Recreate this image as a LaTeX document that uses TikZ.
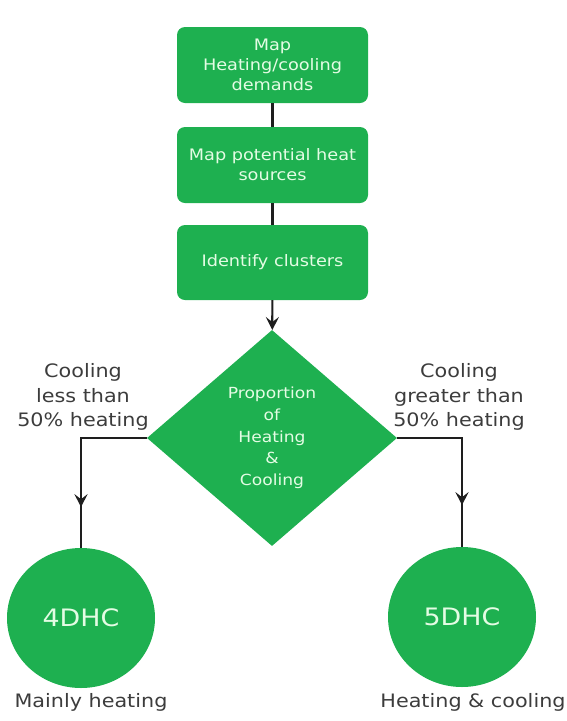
\documentclass[tikz,border=0pt]{standalone}
\usepackage{fontspec}
\setmainfont[FakeStretch=1.12]{DejaVu Sans}
\usetikzlibrary{shapes.geometric,arrows.meta,decorations.markings}
\definecolor{gr}{RGB}{30,176,80}
\definecolor{txtlight}{RGB}{228,252,228}
\definecolor{lbl}{RGB}{60,60,60}
\definecolor{ln}{RGB}{30,30,30}
\begin{document}
\begin{tikzpicture}[x=1pt,y=-1pt,
  stepbox/.style={fill=gr,rounded corners=8pt,minimum width=191pt,minimum height=76pt,
    inner sep=0pt,text=txtlight,align=center,font=\fontsize{15.8}{20}\selectfont},
  decbox/.style={diamond,fill=gr,minimum width=250pt,minimum height=216pt,inner sep=0pt,
    text=txtlight,align=center,font=\fontsize{15.3}{21.7}\selectfont},
  endbox/.style={ellipse,fill=gr,minimum width=148pt,minimum height=140pt,inner sep=0pt,
    text=txtlight,font=\fontsize{24}{28}\selectfont},
  lab/.style={text=lbl,align=center,inner sep=0pt,font=\fontsize{18.5}{24.5}\selectfont},
  conn/.style={draw=ln,line width=2.2pt},
  tip/.style={-{Stealth[length=13pt,width=13pt,inset=5pt]}},
  midarrow/.style={postaction={decorate},decoration={markings,
    mark=at position #1 with {\arrow{Stealth[length=13pt,width=13pt,inset=5pt]}}}}
]
\useasboundingbox (0,0) rectangle (567,721);
\node[stepbox] (b1) at (272.5,65) {Map\\Heating/cooling\\demands};
\node[stepbox] (b2) at (272.5,165) {Map potential heat\\sources};
\node[stepbox,minimum height=75pt] (b3) at (272.5,262.5) {Identify clusters};
\node[decbox] (dia) at (272,438) {Proportion\\of\\Heating\\\&\\Cooling};
\node[endbox] (c4) at (81,618) {4DHC};
\node[endbox] (c5) at (462,617) {5DHC};
\node[lab] (l1) at (83,397) {Cooling\\less than\\50\% heating};
\node[lab] (l2) at (459,397) {Cooling\\greater than\\50\% heating};
\node[lab] (m4) at (91,702) {Mainly heating};
\node[lab] (m5) at (473,702) {Heating \& cooling};
\draw[conn] (b1) -- (b2);
\draw[conn] (b2) -- (b3);
\draw[conn,tip] (b3) -- (dia);
\draw[conn,midarrow=135pt] (dia.west) -| (c4.north);
\draw[conn,midarrow=132pt] (dia.east) -| (c5.north);
\end{tikzpicture}
\end{document}
